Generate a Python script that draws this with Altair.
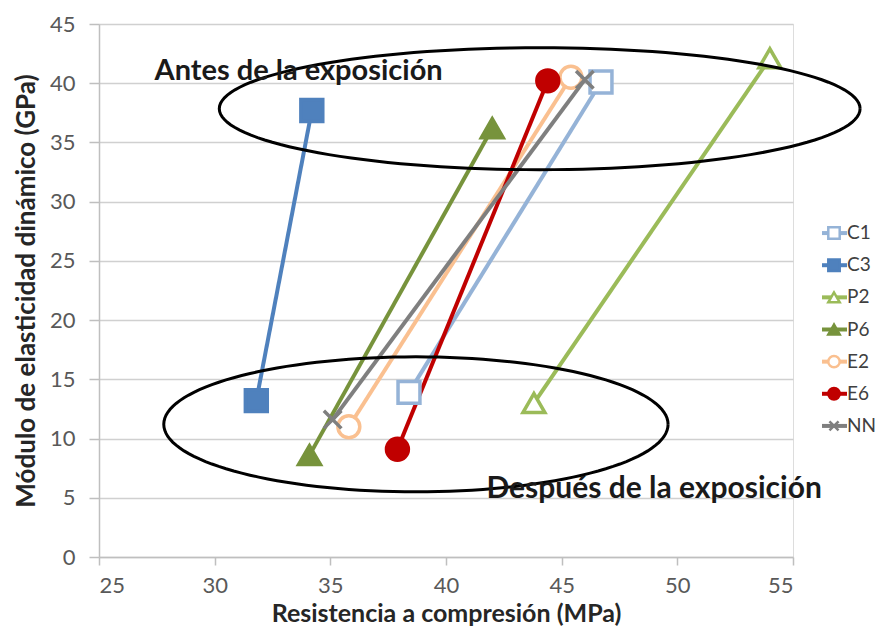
import altair as alt
import pandas as pd
import numpy as np

series = ["C1", "C3", "P2", "P6", "E2", "E6", "NN"]
x_before = [46.7, 34.2, 54.0, 42.0, 45.4, 44.4, 46.0]
y_before = [40.1, 37.7, 42.1, 36.2, 40.5, 40.2, 40.3]
x_after = [38.4, 31.8, 43.8, 34.1, 35.8, 37.9, 35.1]
y_after = [13.9, 13.2, 13.0, 8.6, 11.0, 9.1, 11.6]
colors = ["#95B3D7", "#4F81BD", "#9BBB59", "#77933C", "#FAC090", "#C00000", "#7F7F7F"]
open_marker = [True, False, True, False, True, False, False]
X_PATH = "M-0.8,-0.8L0.8,0.8M-0.8,0.8L0.8,-0.8"
shapes = ["square", "square", "triangle-up", "triangle-up", "circle", "circle", X_PATH]

annotations = ["Antes de la exposición", "Después de la exposición"]
ann_x = [27.4, 41.75]
ann_y = [41.0, 5.7]
ann_size = [29, 30]

# ellipses (annotation shapes): centre, radii in data units
ell_cx = [44.05, 38.7]
ell_cy = [37.85, 11.2]
ell_rx = [13.85, 10.9]
ell_ry = [5.15, 5.7]

rows = []
for i, s in enumerate(series):
    fc = "white" if open_marker[i] else colors[i]
    rows.append(dict(series=s, x=x_before[i], y=y_before[i], ord=0, fillc=fc))
    rows.append(dict(series=s, x=x_after[i], y=y_after[i], ord=1, fillc=fc))
df = pd.DataFrame(rows)

erows = []
t = np.linspace(0, 2 * np.pi, 141)
for k in range(2):
    for j, tt in enumerate(t):
        erows.append(dict(e=k, t=j, x=ell_cx[k] + ell_rx[k] * np.cos(tt), y=ell_cy[k] + ell_ry[k] * np.sin(tt)))
edf = pd.DataFrame(erows)

adf = pd.DataFrame(dict(label=annotations, x=ann_x, y=ann_y, fs=ann_size))
ldf = pd.DataFrame(dict(series=series, fillc=["white" if o else c for o, c in zip(open_marker, colors)]))

FONT = "Lato"
xs = alt.Scale(domain=[25, 55], nice=False)
ys = alt.Scale(domain=[0, 45], nice=False)
cs = alt.Scale(domain=series, range=colors)
ss = alt.Scale(domain=series, range=shapes)

xax = alt.Axis(values=[25, 30, 35, 40, 45, 50, 55], grid=False, title="Resistencia a compresión (MPa)",
               titleFontSize=25, titleFontWeight="bold", titleColor="#262626", titleFont=FONT,
               labelFontSize=22, labelColor="#595959", labelFont=FONT, labelPadding=10,
               tickColor="#BFBFBF", domainColor="#BFBFBF", tickSize=8, titlePadding=5,
               domainWidth=1.5, tickWidth=1.5)
yax = alt.Axis(values=list(range(0, 50, 5)), grid=True, gridColor="#D0D0D0", gridWidth=1.5,
               title="Módulo de elasticidad dinámico (GPa)",
               titleFontSize=26, titleFontWeight="bold", titleColor="#262626", titleFont=FONT,
               labelFontSize=22, labelColor="#595959", labelFont=FONT, labelPadding=14,
               tickColor="#BFBFBF", domainColor="#BFBFBF", tickSize=10, titlePadding=10,
               domainWidth=1.5, tickWidth=1.5)

lines = alt.Chart(df).mark_line(strokeWidth=4).encode(
    x=alt.X("x:Q", scale=xs, axis=xax),
    y=alt.Y("y:Q", scale=ys, axis=yax),
    color=alt.Color("series:N", scale=cs, legend=None),
    detail="series:N",
    order="ord:Q",
)
points = alt.Chart(df).mark_point(filled=True, size=480, strokeWidth=3.5, opacity=1).encode(
    x="x:Q", y="y:Q",
    shape=alt.Shape("series:N", scale=ss, legend=None),
    stroke=alt.Stroke("series:N", scale=cs, legend=None),
    fill=alt.Fill("fillc:N", scale=None),
)
ellipses = alt.Chart(edf).mark_line(color="black", strokeWidth=3).encode(
    x="x:Q", y="y:Q", detail="e:N", order="t:Q")
texts = alt.Chart(adf).mark_text(align="left", baseline="middle", fontWeight="bold",
                                 font=FONT, color="#1a1a1a").encode(
    x="x:Q", y="y:Q", text="label:N", size=alt.Size("fs:Q", scale=None))

ly = alt.Y("series:N", scale=alt.Scale(domain=series, range=[193, 418], padding=0), axis=None)
leg_rule = alt.Chart(ldf).mark_rule(strokeWidth=4).encode(
    x=alt.value(723), x2=alt.value(748), y=ly,
    color=alt.Color("series:N", scale=cs, legend=None))
leg_pt = alt.Chart(ldf).mark_point(filled=True, size=130, strokeWidth=2.5, opacity=1).encode(
    x=alt.value(735), y=ly,
    shape=alt.Shape("series:N", scale=ss, legend=None),
    stroke=alt.Stroke("series:N", scale=cs, legend=None),
    fill=alt.Fill("fillc:N", scale=None))
leg_txt = alt.Chart(ldf).mark_text(align="left", baseline="middle", fontSize=19, font=FONT,
                                   color="#404040").encode(x=alt.value(748), y=ly, text="series:N")

legend = alt.layer(leg_rule, leg_pt, leg_txt)
main = alt.layer(lines, points, ellipses, texts)

chart = alt.layer(main, legend).resolve_scale(y="independent").properties(
    width=694, height=533,
    autosize=alt.AutoSizeParams(type="none"),
    padding={"left": 91, "top": 16, "right": 86, "bottom": 74},
).configure_view(stroke=None).configure(background="white")

chart.save("out.html", embed_options={"renderer": "svg", "actions": False})
